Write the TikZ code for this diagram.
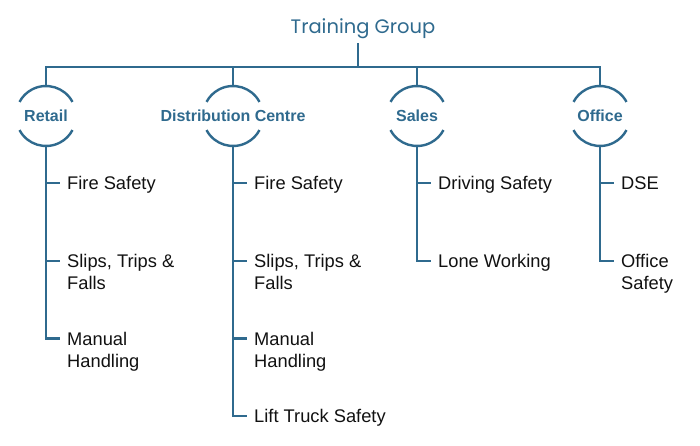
\documentclass[tikz,border=0pt]{standalone}
\usepackage{fontspec}
\setmainfont{Liberation Sans}
\newfontfamily\titlefont{Poppins}
\definecolor{teal}{HTML}{2F6A8E}
\definecolor{ink}{HTML}{111111}
\tikzset{
	branch/.style = {draw=teal, line width=2.4pt},
	ring/.style = {circle, minimum size=60pt, inner sep=0pt, outer sep=0pt},
	group/.style = {text=teal, font=\bfseries\fontsize{16}{19}\selectfont, inner sep=0pt},
	heading/.style = {text=teal, font=\titlefont\fontsize{19.5}{24}\selectfont, inner sep=4pt},
	item/.style = {anchor=north west, align=left, inner sep=0pt, text=ink,
		font=\fontsize{18.3}{22.5}\selectfont}
}
\begin{document}
\begin{tikzpicture}[x=1pt, y=1pt]
			\useasboundingbox (0, 0) rectangle (700, 445);
			\node[heading, anchor=base] (title) at (363, 411) {Training Group};
			\coordinate (bus) at (358, 378);
			\node[ring, label={[group]center:Retail}] (retail) at (46, 329) {};
			\node[ring, label={[group]center:Distribution Centre}] (dist) at (233, 329) {};
			\node[ring, label={[group]center:Sales}] (sales) at (417, 329) {};
			\node[ring, label={[group]center:Office}] (office) at (600, 329) {};
			% bus line and stems
			\draw[branch] (title.south -| bus) -- (bus);
			\draw[branch] (retail.north) |- (bus) -| (office.north);
			\draw[branch] (dist.north) -- (dist |- bus);
			\draw[branch] (sales.north) -- (sales |- bus);
			% open rings
			\foreach \n in {retail, dist, sales, office}{
				\draw[branch] (\n.28) arc[start angle=28, end angle=152, radius=30pt];
				\draw[branch] (\n.208) arc[start angle=208, end angle=332, radius=30pt];
			}
			% course lists
			\foreach \t [count=\i] in {Fire Safety, {Slips, Trips \&\\Falls}, {Manual\\Handling}}{
				\path (retail.south) ++(0, {40.7-77.7*\i}) coordinate (retail-\i);
				\draw[branch] (retail-\i) -- ++(14, 0);
				\node[item] (retail-t\i) at ([shift={(21, 6.8)}]retail-\i) {\t};
			}
			\foreach \t [count=\i] in {Fire Safety, {Slips, Trips \&\\Falls}, {Manual\\Handling}, Lift Truck Safety}{
				\path (dist.south) ++(0, {40.7-77.7*\i}) coordinate (dist-\i);
				\draw[branch] (dist-\i) -- ++(14, 0);
				\node[item] (dist-t\i) at ([shift={(21, 6.8)}]dist-\i) {\t};
			}
			\foreach \t [count=\i] in {Driving Safety, Lone Working}{
				\path (sales.south) ++(0, {40.7-77.7*\i}) coordinate (sales-\i);
				\draw[branch] (sales-\i) -- ++(14, 0);
				\node[item] (sales-t\i) at ([shift={(21, 6.8)}]sales-\i) {\t};
			}
			\foreach \t [count=\i] in {DSE, {Office\\Safety}}{
				\path (office.south) ++(0, {40.7-77.7*\i}) coordinate (office-\i);
				\draw[branch] (office-\i) -- ++(14, 0);
				\node[item] (office-t\i) at ([shift={(21, 6.8)}]office-\i) {\t};
			}
			\draw[branch] (retail.south) -- (retail-3) -- ++(14, 0);
			\draw[branch] (dist.south) -- (dist-4) -- ++(14, 0);
			\draw[branch] (sales.south) -- (sales-2) -- ++(14, 0);
			\draw[branch] (office.south) -- (office-2) -- ++(14, 0);
\end{tikzpicture}
\end{document}
